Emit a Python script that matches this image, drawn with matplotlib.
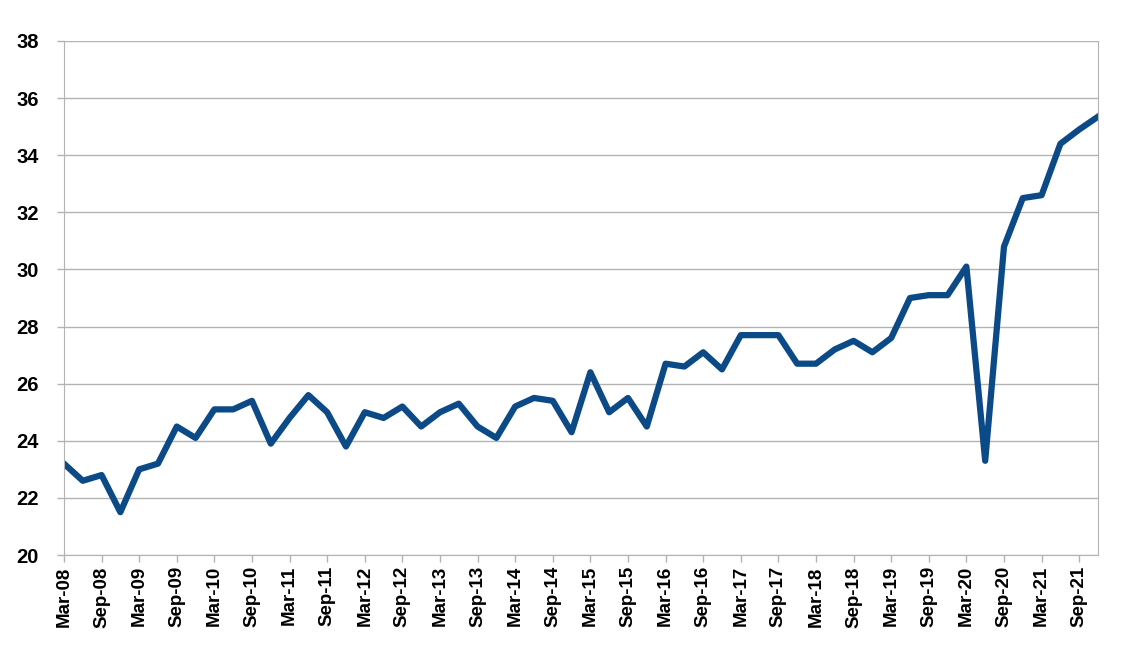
import matplotlib.pyplot as plt

# quarterly values, Mar-08 .. Dec-21
quarters = []
for yr in range(8, 22):
    for m in ['Mar', 'Jun', 'Sep', 'Dec']:
        quarters.append('%s-%02d' % (m, yr))

values = [
    23.2, 22.6, 22.8, 21.5,   # 2008
    23.0, 23.2, 24.5, 24.1,   # 2009
    25.1, 25.1, 25.4, 23.9,   # 2010
    24.8, 25.6, 25.0, 23.8,   # 2011
    25.0, 24.8, 25.2, 24.5,   # 2012
    25.0, 25.3, 24.5, 24.1,   # 2013
    25.2, 25.5, 25.4, 24.3,   # 2014
    26.4, 25.0, 25.5, 24.5,   # 2015
    26.7, 26.6, 27.1, 26.5,   # 2016
    27.7, 27.7, 27.7, 26.7,   # 2017
    26.7, 27.2, 27.5, 27.1,   # 2018
    27.6, 29.0, 29.1, 29.1,   # 2019
    30.1, 23.3, 30.8, 32.5,   # 2020
    32.6, 34.4, 34.9, 35.35,  # 2021
]

y_ticks = [20, 22, 24, 26, 28, 30, 32, 34, 36, 38]

plt.rcParams['font.family'] = ['Liberation Sans', 'DejaVu Sans']

fig = plt.figure(figsize=(11.28, 6.58), dpi=100)
ax = fig.add_axes([0.0567, 0.1565, 0.9167, 0.7812])

x = list(range(len(values)))
ax.plot(x, values, color='#0b4a86', linewidth=4.5, solid_joinstyle='round')

ax.set_xlim(0, len(values) - 1)
ax.set_ylim(20, 38)
ax.set_yticks(y_ticks)
ax.set_yticklabels([str(v) for v in y_ticks], fontsize=14.5, fontweight='bold')
ax.set_xticks(x[::2])
ax.set_xticklabels(quarters[::2], rotation=90, fontsize=13.5, fontweight='bold')

grid_col = '#b3b3b3'
ax.grid(axis='y', color=grid_col, linewidth=1)
ax.set_axisbelow(True)
for side in ['left', 'right', 'bottom']:
    ax.spines[side].set_color(grid_col)
ax.spines['top'].set_visible(False)
ax.tick_params(axis='both', color=grid_col, length=5, width=1, direction='out')
ax.tick_params(axis='y', pad=13)
ax.tick_params(axis='x', pad=3)

fig.savefig('out.png', dpi=100)
